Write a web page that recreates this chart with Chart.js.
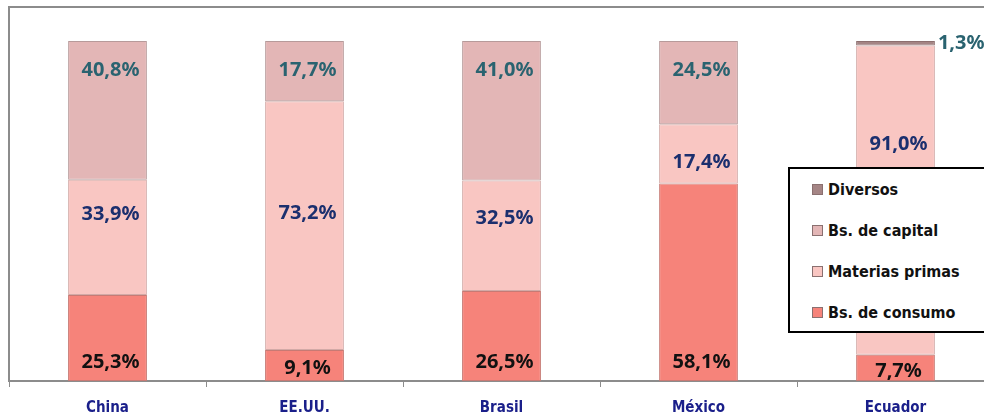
<!DOCTYPE html>
<html>
<head>
<meta charset="utf-8">
<script src="https://cdn.jsdelivr.net/npm/chart.js@4/dist/chart.umd.min.js"></script>
<style>
  html, body { margin: 0; padding: 0; background: #fff; overflow: hidden; }
  #wrap { position: relative; width: 994px; height: 429px; }
  #legend {
    position: absolute; left: 788px; top: 167px; width: 200px; height: 166px;
    border: 2px solid #000; background: #fff; box-sizing: border-box;
    font-family: "Liberation Sans Narrow", "DejaVu Sans Condensed", Arial, sans-serif;
    font-weight: bold; font-size: 16px; color: #111;
  }
  #legend .item { display: flex; align-items: center; height: 41px; padding-left: 22px; }
  #legend .sw { width: 9px; height: 9px; border: 1px solid #8a7070; margin-right: 5px; }
</style>
</head>
<body>
<div id="wrap">
  <canvas id="chart" width="994" height="429"></canvas>
  <div id="legend"></div>
</div>
<script>
// datos (% de participacion)
const categories = ['China', 'EE.UU.', 'Brasil', 'México', 'Ecuador'];
const consumo = [25.3, 9.1, 26.5, 58.1, 7.7];
const materias = [33.9, 73.2, 32.5, 17.4, 91.0];
const capital = [40.8, 17.7, 41.0, 24.5, 0];
const diversos = [0, 0, 0, 0, 1.3];

const seriesNames = ['Bs. de consumo', 'Materias primas', 'Bs. de capital', 'Diversos'];
const fills = ['#f6837a', '#f9c6c2', '#e3b6b6', '#a58585'];
const borders = ['#c77a74', '#d2aaa7', '#b79a9a', '#8d6f6f'];
const labelColors = ['#111111', '#1b2f6e', '#2a6370', '#2a6370'];

// ajuste vertical de las etiquetas de materias primas (como en el original)
const materiasNudge = [-23, -12, -17, 8, -56];

function fmt(v) {
  return v.toFixed(1).replace('.', ',') + '%';
}

const labelPlugin = {
  id: 'segLabels',
  afterDatasetsDraw(chart) {
    const c = chart.ctx;
    c.save();
    c.font = 'bold 20px "Noto Sans", "Open Sans", sans-serif';
    c.textBaseline = 'middle';
    chart.data.datasets.forEach((ds, di) => {
      const meta = chart.getDatasetMeta(di);
      meta.data.forEach((bar, i) => {
        const v = ds.data[i];
        if (!v) return;
        const top = bar.y, base = bar.base, mid = (top + base) / 2;
        let x = bar.x + 3, y = mid;
        c.textAlign = 'center';
        if (di === 0) y = Math.max(base - 19, mid + 3);
        if (di === 1) y = mid + materiasNudge[i];
        if (di === 2) y = top + 29;
        if (di === 3) {
          c.textAlign = 'left';
          x = bar.x + bar.width / 2 + 3;
          y = top + 2;
        }
        c.fillStyle = labelColors[di];
        c.fillText(fmt(v), x, y);
      });
    });
    c.restore();
  }
};

const framePlugin = {
  id: 'frame',
  beforeDraw(chart) {
    const a = chart.chartArea, c = chart.ctx;
    c.save();
    c.strokeStyle = '#8c8c8c';
    c.lineWidth = 2;
    c.beginPath();
    c.moveTo(a.left, a.top);
    c.lineTo(chart.width, a.top);
    c.stroke();
    c.restore();
  }
};

const seriesData = [consumo, materias, capital, diversos];

new Chart(document.getElementById('chart'), {
  type: 'bar',
  data: {
    labels: categories,
    datasets: seriesData.map((d, k) => ({
      label: seriesNames[k],
      data: d,
      backgroundColor: fills[k],
      borderColor: borders[k],
      borderWidth: (ctx) => (ctx.raw ? 1 : 0),
      borderSkipped: false,
      barPercentage: 0.4,
      categoryPercentage: 1
    }))
  },
  options: {
    responsive: false,
    animation: false,
    layout: { padding: { left: 1, right: 0, top: 7, bottom: 0 } },
    plugins: { legend: { display: false }, tooltip: { enabled: false } },
    scales: {
      x: {
        stacked: true,
        grid: { display: true, drawOnChartArea: false, tickLength: 6, color: '#8c8c8c', offset: true },
        border: { color: '#8c8c8c', width: 2 },
        ticks: {
          color: '#1a1f8a', padding: 12,
          font: { family: '"Liberation Sans Narrow", "DejaVu Sans Condensed", Arial, sans-serif', size: 15, weight: 'bold' }
        }
      },
      y: {
        stacked: true,
        min: 0, max: 110,
        grid: { display: false },
        border: { color: '#8c8c8c', width: 2 },
        ticks: { display: false }
      }
    }
  },
  plugins: [framePlugin, labelPlugin]
});

// leyenda en el orden inverso al apilado
const legendEl = document.getElementById('legend');
for (let k = seriesNames.length - 1; k >= 0; k--) {
  const row = document.createElement('div');
  row.className = 'item';
  row.innerHTML = '<span class="sw" style="background:' + fills[k] + '"></span>' + seriesNames[k];
  legendEl.appendChild(row);
}
</script>
</body>
</html>
